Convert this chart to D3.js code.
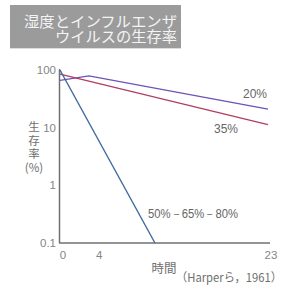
<!DOCTYPE html>
<html><head><meta charset="utf-8">
<script src="https://cdn.jsdelivr.net/npm/d3@7"></script>
<style>
html,body{margin:0;padding:0;background:#fff;}
svg{display:block;}
</style></head>
<body>
<script>
const titleLines = ["湿度とインフルエンザ", "ウイルスの生存率"];
const yTickValues = [0.1, 1, 10, 100];
const yTickLabels = ["0.1", "1", "10", "100"];
const xTickValues = [0, 4, 23];
const xTickLabels = ["0", "4", "23"];
const yTitleLines = ["生", "存", "率", "(%)"];
const xTitle = "時間";
const sourceText = "（Harperら，1961）";

const series20Hours = [0, 3.2, 23];
const series20Values = [66, 79, 21];
const series35Hours = [0, 23];
const series35Values = [85, 11.3];
const seriesMidHours = [0, 10.5];
const seriesMidValues = [100, 0.1];
const seriesNames = ["20%", "35%", "50%－65%－80%"];

const W = 292, H = 286;
const svg = d3.select("body").append("svg").attr("width", W).attr("height", H);

// title box
svg.append("rect").attr("x", 10).attr("y", 5).attr("width", 171).attr("height", 43).attr("fill", "#9b9b9b");
svg.append("line").attr("x1", 10).attr("x2", 181).attr("y1", 48.5).attr("y2", 48.5).attr("stroke", "#dcdcdc");
svg.selectAll("text.title").data(titleLines).enter().append("text")
  .attr("class", "title")
  .attr("x", 177).attr("y", (d, i) => 27 + i * 15)
  .attr("text-anchor", "end")
  .attr("font-family", "'Noto Sans CJK JP', sans-serif")
  .attr("font-size", 14.8).attr("fill", "#f4f4f4")
  .attr("textLength", (d, i) => i === 0 ? 153 : 122).attr("lengthAdjust", "spacingAndGlyphs")
  .text(d => d);

const x = d3.scaleLinear().domain([0, 23]).range([60, 268]);
const y = d3.scaleLog().domain([0.1, 100]).range([243, 70]);

// axes lines
svg.append("line").attr("x1", 59.5).attr("x2", 59.5).attr("y1", y(100) - 1).attr("y2", y(0.1))
  .attr("stroke", "#707070").attr("stroke-width", 1.5);
svg.append("line").attr("x1", 59).attr("x2", 270).attr("y1", y(0.1)).attr("y2", y(0.1))
  .attr("stroke", "#707070").attr("stroke-width", 1.5);

const tickFont = "'Liberation Sans Narrow', 'Liberation Sans', sans-serif";
svg.selectAll("text.yt").data(yTickValues).enter().append("text")
  .attr("x", 56).attr("y", d => y(d) + 4)
  .attr("text-anchor", "end").attr("font-family", tickFont)
  .attr("font-size", 11.5).attr("fill", "#858585")
  .text((d, i) => yTickLabels[i]);
svg.selectAll("text.xt").data(xTickValues).enter().append("text")
  .attr("x", d => x(d) + 3).attr("y", 259)
  .attr("text-anchor", "middle").attr("font-family", tickFont)
  .attr("font-size", 11.5).attr("fill", "#858585")
  .text((d, i) => xTickLabels[i]);

// axis titles
svg.selectAll("text.ytitle").data(yTitleLines).enter().append("text")
  .attr("x", 34).attr("y", (d, i) => 131 + i * 13.5)
  .attr("text-anchor", "middle")
  .attr("font-family", "'Noto Sans CJK JP', sans-serif")
  .attr("font-size", 11.5).attr("fill", "#707070")
  .text(d => d);
svg.append("text").attr("x", 164).attr("y", 273).attr("text-anchor", "middle")
  .attr("font-family", "'Noto Sans CJK JP', sans-serif")
  .attr("font-size", 12.5).attr("fill", "#707070").text(xTitle);
svg.append("text").attr("x", 176).attr("y", 282).attr("text-anchor", "start")
  .attr("font-family", "'Noto Sans CJK JP', sans-serif")
  .attr("font-size", 12).attr("fill", "#707070")
  .attr("textLength", 106).attr("lengthAdjust", "spacingAndGlyphs").text(sourceText);

// lines
const line = d3.line().x(d => x(d[0])).y(d => y(d[1]));
const seriesData = [
  {h: series20Hours, v: series20Values, color: "#6d52b8"},
  {h: series35Hours, v: series35Values, color: "#b03f62"},
  {h: seriesMidHours, v: seriesMidValues, color: "#3f6a9c"}
];
seriesData.forEach(s => {
  svg.append("path").attr("d", line(s.h.map((hh, i) => [hh, s.v[i]])))
    .attr("fill", "none").attr("stroke", s.color).attr("stroke-width", 1.4);
});

// labels
const labelFont = "'Liberation Sans', Arial, sans-serif";
svg.append("text").attr("x", 255).attr("y", 97.5).attr("text-anchor", "middle")
  .attr("font-family", labelFont).attr("font-size", 12).attr("fill", "#666").text(seriesNames[0]);
svg.append("text").attr("x", 226).attr("y", 132.5).attr("text-anchor", "middle")
  .attr("font-family", labelFont).attr("font-size", 12).attr("fill", "#666").text(seriesNames[1]);
svg.append("text").attr("x", 148).attr("y", 217.5).attr("text-anchor", "start")
  .attr("font-family", labelFont).attr("font-size", 12).attr("fill", "#666")
  .attr("textLength", 90).attr("lengthAdjust", "spacingAndGlyphs").text(seriesNames[2]);
</script>
</body></html>
